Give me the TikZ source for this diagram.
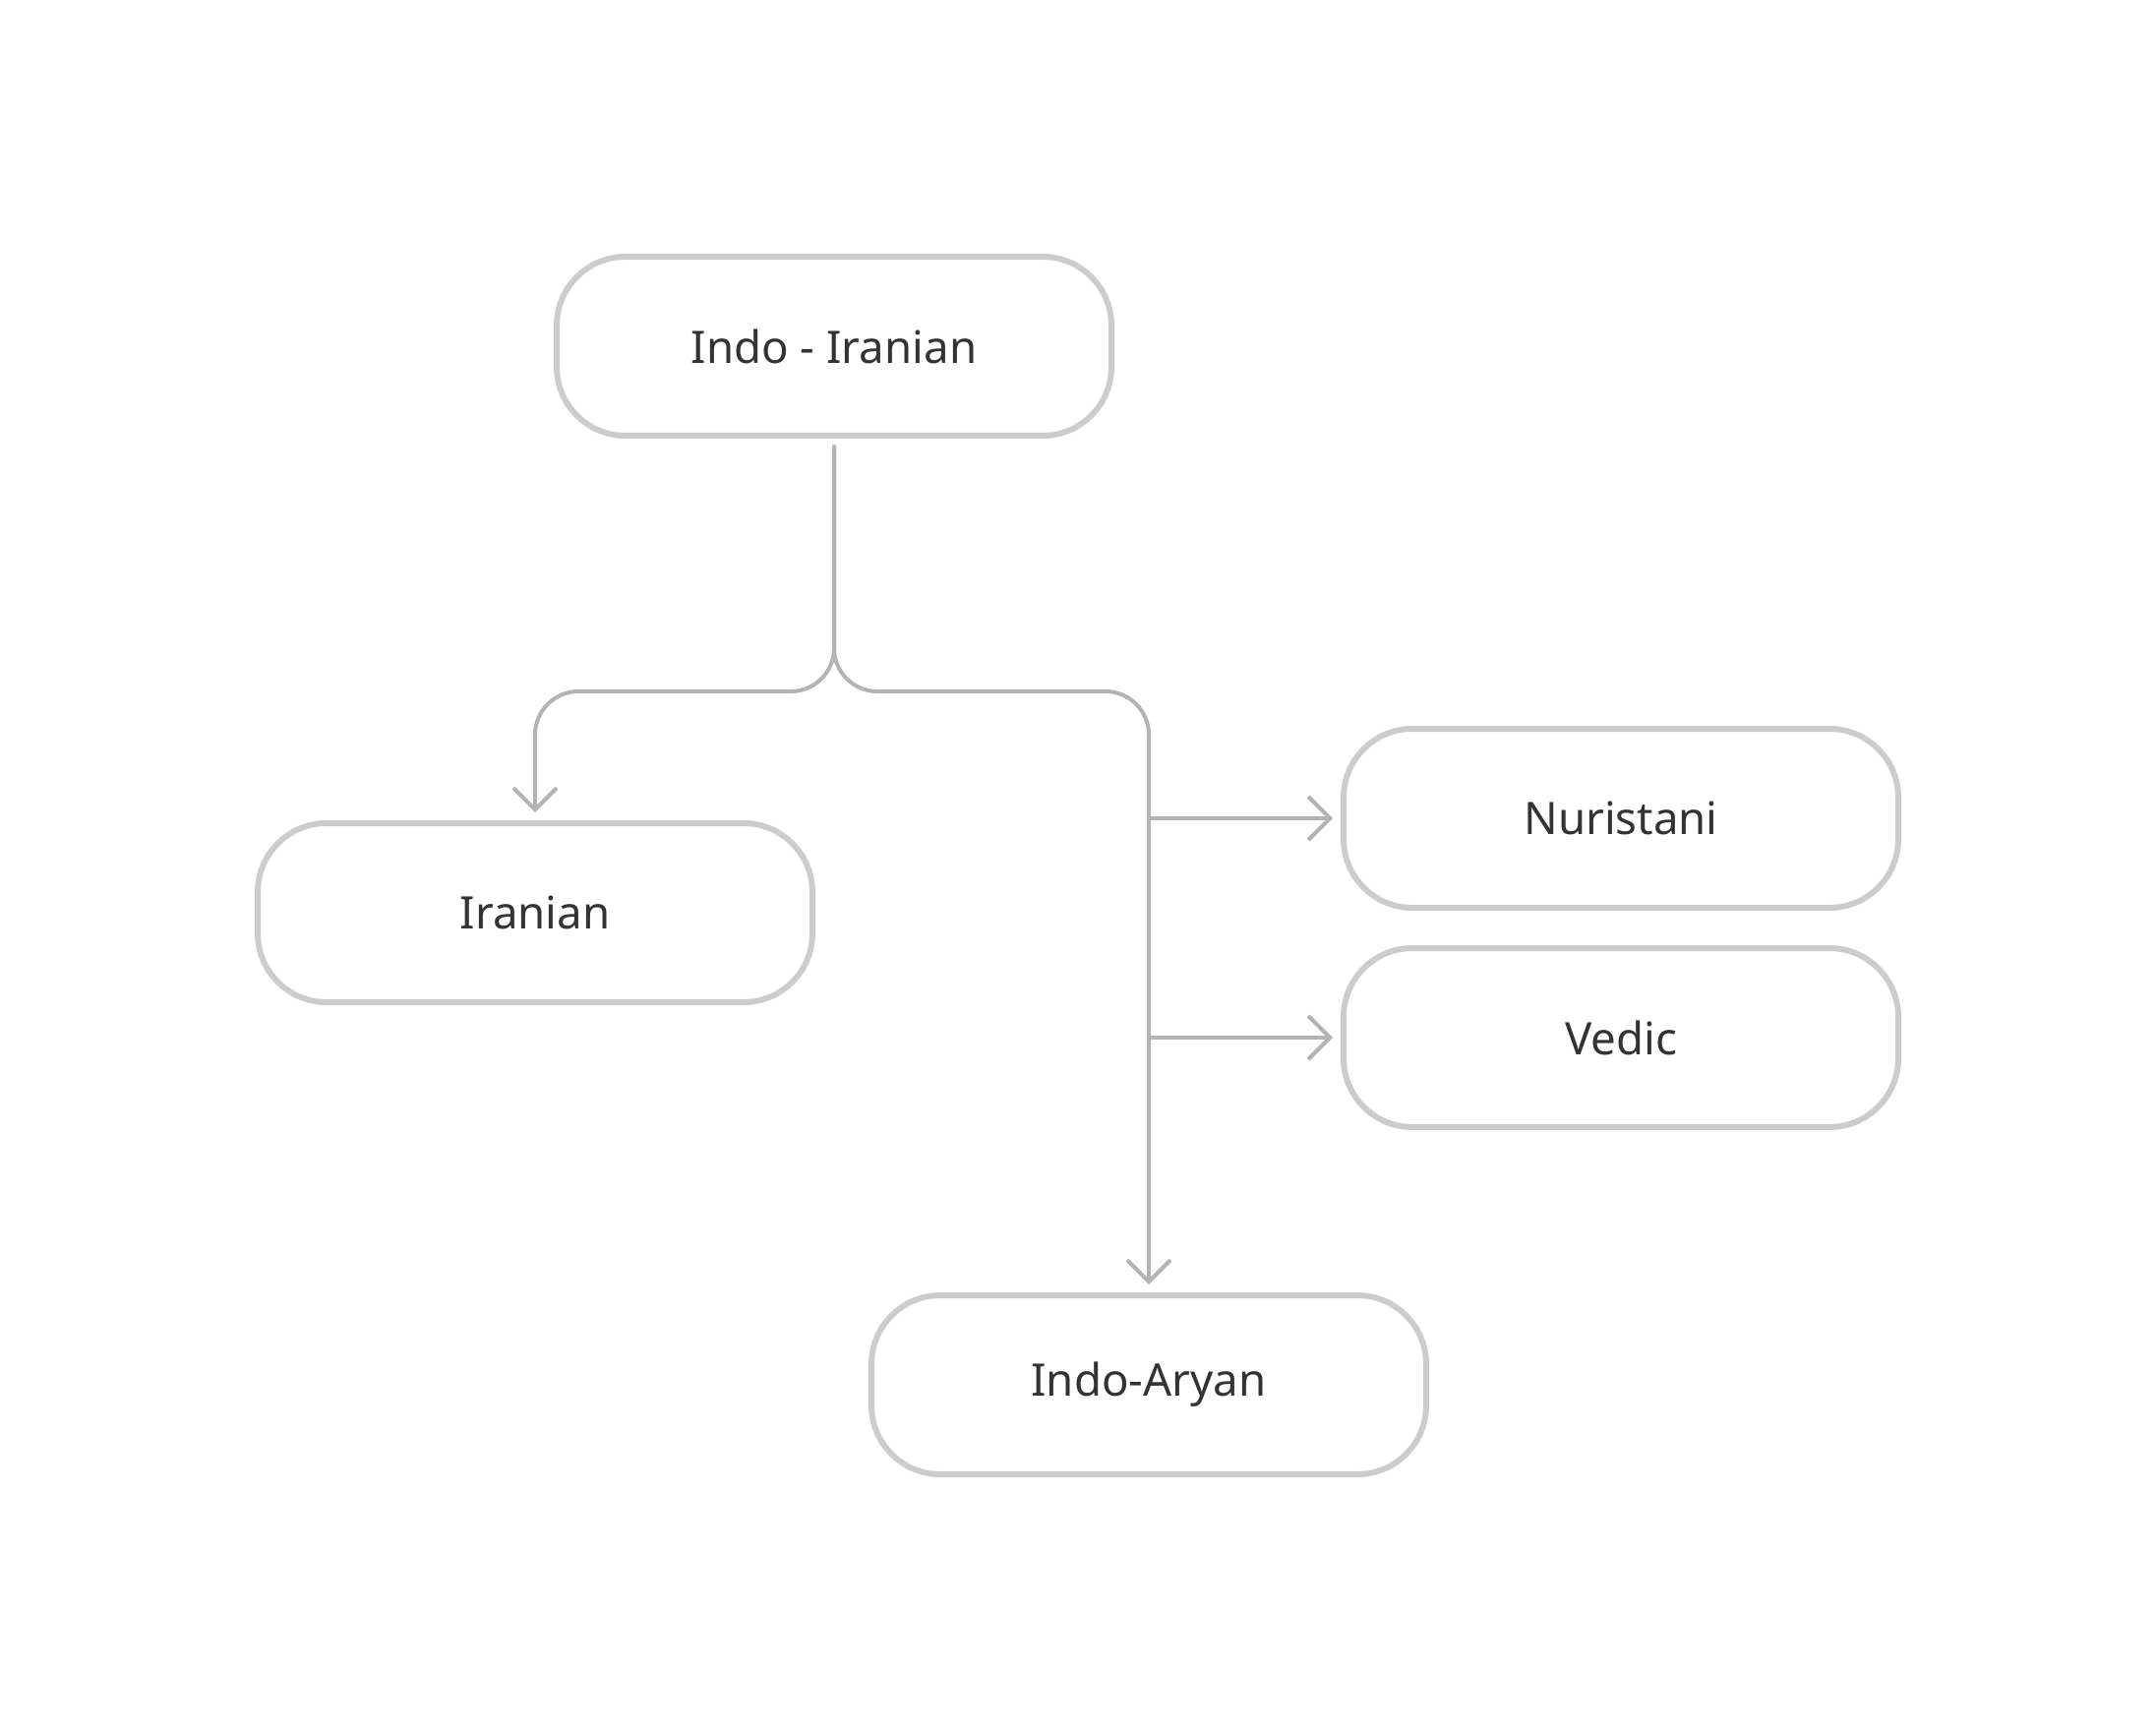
\documentclass[tikz,border=0pt]{standalone}
\usepackage{fontspec}
\setmainfont{Noto Sans}
\usetikzlibrary{arrows.meta}
\definecolor{boxgray}{HTML}{CCCCCC}
\definecolor{linegray}{HTML}{B3B3B3}
\definecolor{txtgray}{HTML}{333333}
\begin{document}
\begin{tikzpicture}[x=0.5pt,y=-0.5pt,
        lang/.style={draw=boxgray,line width=3pt,rounded corners=35pt,
            minimum width=282pt,minimum height=91pt,text=txtgray,
            font=\fontsize{22.8}{27}\selectfont},
        conn/.style={draw=linegray,line width=2pt,rounded corners=22pt,
            line cap=round,line join=round},
        tip/.style={-{Straight Barb[length=11pt,width=22pt,line width=2pt]}}]
        \useasboundingbox (0,0) rectangle (2192,1760);
        \node[lang] (ii) at (848,352) {Indo - Iranian};
        \node[lang] (iran) at (544,928) {Iranian};
        \node[lang] (nur) at (1648,832) {Nuristani};
        \node[lang] (ved) at (1648,1055) {Vedic};
        \node[lang] (ia) at (1168,1408) {Indo-Aryan};
        \coordinate (split) at (848,703);

        \draw[conn,tip,shorten <=4pt,shorten >=4pt] (ii.south) -- (split) -| (iran.north);
        \draw[conn,tip,shorten <=4pt,shorten >=4pt] (ii.south) -- (split) -| (ia.north);
        \draw[conn,tip,shorten >=4pt] (nur.west -| ia.north) -- (nur.west);
        \draw[conn,tip,shorten >=4pt] (ved.west -| ia.north) -- (ved.west);
    \end{tikzpicture}
\end{document}
